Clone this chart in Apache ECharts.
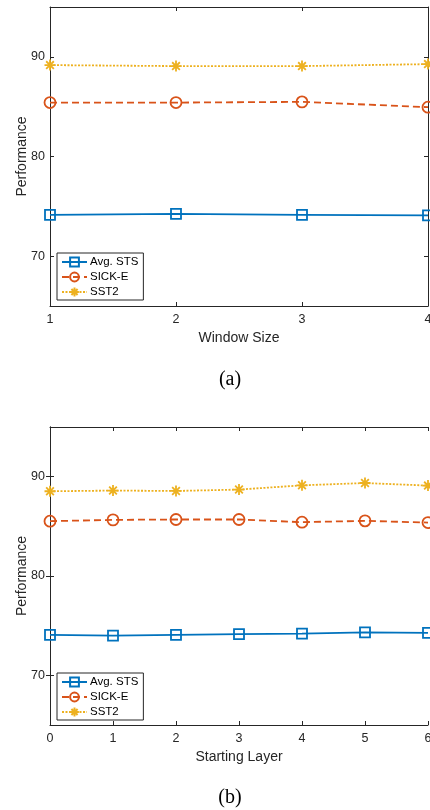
<!DOCTYPE html>
<html>
<head>
<meta charset="utf-8">
<script src="https://cdn.jsdelivr.net/npm/echarts@6/dist/echarts.min.js"></script>
<style>
html,body{margin:0;padding:0;background:#fff;}
#main{width:430px;height:810px;}
</style>
</head>
<body>
<div id="main"></div>
<script>
// ---- data ----
const windowSizes = [1, 2, 3, 4];
const startLayers = [0, 1, 2, 3, 4, 5, 6];
const seriesNames = ['Avg. STS', 'SICK-E', 'SST2'];
const aAvgSTS = [74.15, 74.25, 74.15, 74.09];
const aSICKE  = [85.41, 85.41, 85.48, 84.95];
const aSST2   = [89.17, 89.07, 89.07, 89.27];
const bAvgSTS = [74.07, 74.00, 74.07, 74.14, 74.20, 74.33, 74.27];
const bSICKE  = [85.52, 85.65, 85.69, 85.69, 85.42, 85.55, 85.38];
const bSST2   = [88.53, 88.60, 88.56, 88.70, 89.13, 89.36, 89.10];
const yTicks = [70, 80, 90];
const yRange = [65, 95];

const SANS = "'Liberation Sans', Arial, sans-serif";
const SERIF = "'Liberation Serif', 'Times New Roman', serif";
const AX = '#262626';
const COLORS = ['#0072BD', '#D95319', '#EDB120'];
const ASTERISK = 'path://M0,5 L10,5 M5,0 L5,10 M1.5,1.5 L8.5,8.5 M1.5,8.5 L8.5,1.5';

const chart = echarts.init(document.getElementById('main'), null, {renderer: 'canvas'});

function xAxes(gridIndex, xs, name) {
  const base = {
    type: 'value', gridIndex: gridIndex, min: xs[0], max: xs[xs.length - 1], interval: 1,
    axisLine: {show: true, lineStyle: {color: AX, width: 1}},
    axisTick: {show: true, inside: true, length: 4, lineStyle: {color: AX}},
    splitLine: {show: false}
  };
  return [
    Object.assign({}, base, {
      position: 'bottom', name: name, nameLocation: 'middle', nameGap: 25, nameMoveOverlap: false,
      nameTextStyle: {fontFamily: SANS, fontSize: 14, color: AX},
      axisLabel: {show: true, margin: 7, fontFamily: SANS, fontSize: 12.5, color: AX}
    }),
    Object.assign({}, base, {position: 'top', axisLabel: {show: false}})
  ];
}
function yAxes(gridIndex) {
  const base = {
    type: 'value', gridIndex: gridIndex, min: yRange[0], max: yRange[1], interval: 5,
    axisLine: {show: true, lineStyle: {color: AX, width: 1}},
    axisTick: {show: true, inside: true, length: 4, customValues: yTicks, lineStyle: {color: AX}},
    splitLine: {show: false}
  };
  return [
    Object.assign({}, base, {
      position: 'left', name: 'Performance', nameLocation: 'middle', nameGap: 21, nameMoveOverlap: false,
      nameTextStyle: {fontFamily: SANS, fontSize: 14, color: AX},
      axisLabel: {show: true, margin: 5, customValues: yTicks, fontFamily: SANS, fontSize: 12.5, color: AX}
    }),
    Object.assign({}, base, {position: 'right', axisLabel: {show: false}})
  ];
}
function mkSeries(idx, xs, ys, xAxisIndex, yAxisIndex) {
  const symbols = ['rect', 'circle', ASTERISK];
  const sizes = [10, 11, 11];
  const types = ['solid', [7, 4], [2, 1.5]];
  return {
    name: seriesNames[idx], type: 'line',
    xAxisIndex: xAxisIndex, yAxisIndex: yAxisIndex,
    data: xs.map((x, i) => [x, ys[i]]),
    symbol: symbols[idx], symbolSize: sizes[idx], showAllSymbol: true,
    clip: false,
    lineStyle: {color: COLORS[idx], width: 1.8, type: types[idx]},
    itemStyle: {color: idx === 2 ? COLORS[idx] : 'rgba(0,0,0,0)', borderColor: COLORS[idx], borderWidth: 1.8},
    emphasis: {disabled: true},
    animation: false
  };
}
function legend(top) {
  return {
    data: seriesNames, orient: 'vertical', left: 57, top: top,
    itemWidth: 25, itemHeight: 11, itemGap: 3,
    padding: [3, 5, 2, 4],
    borderColor: AX, borderWidth: 1, borderRadius: 0, backgroundColor: '#fff',
    textStyle: {fontFamily: SANS, fontSize: 11.5, color: '#000', padding: [0, 0, 0, -2]},
    selectedMode: false
  };
}

const option = {
  backgroundColor: '#fff',
  animation: false,
  grid: [
    {left: 50, right: 2, top: 7, height: 299, outerBoundsMode: 'none', containLabel: false},
    {left: 50, right: 2, top: 427, height: 298, outerBoundsMode: 'none', containLabel: false}
  ],
  xAxis: [].concat(xAxes(0, windowSizes, 'Window Size'), xAxes(1, startLayers, 'Starting Layer')),
  yAxis: [].concat(yAxes(0), yAxes(1)),
  legend: [legend(253), legend(673)],
  series: [
    mkSeries(0, windowSizes, aAvgSTS, 0, 0),
    mkSeries(1, windowSizes, aSICKE, 0, 0),
    mkSeries(2, windowSizes, aSST2, 0, 0),
    mkSeries(0, startLayers, bAvgSTS, 2, 2),
    mkSeries(1, startLayers, bSICKE, 2, 2),
    mkSeries(2, startLayers, bSST2, 2, 2)
  ],
  graphic: [
    {type: 'text', x: 230, y: 380, style: {text: '(a)', font: '20px ' + SERIF, fill: '#000', align: 'center', verticalAlign: 'middle'}},
    {type: 'text', x: 230, y: 798, style: {text: '(b)', font: '20px ' + SERIF, fill: '#000', align: 'center', verticalAlign: 'middle'}}
  ]
};
chart.setOption(option);
</script>
</body>
</html>
